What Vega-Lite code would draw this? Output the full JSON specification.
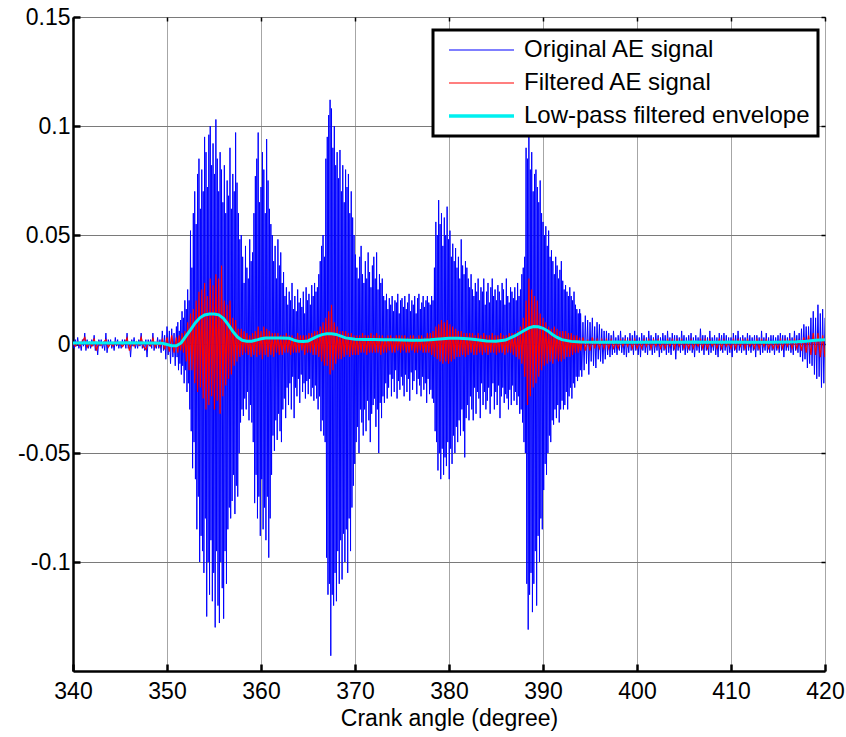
{
"$schema": "https://vega.github.io/schema/vega-lite/v6.json",
"width": 752, "height": 654,
"autosize": {"type": "none"},
"padding": {"left": 73, "top": 17, "right": 21, "bottom": 66},
"background": "white",
"config": {
  "view": {"stroke": "#000000", "strokeWidth": 1},
  "font": "Liberation Sans",
  "axis": {"labelFont": "Liberation Sans", "labelFontSize": 23, "labelColor": "black", "titleFont": "Liberation Sans", "titleFontSize": 23, "titleFontWeight": "normal", "titleColor": "black", "domainColor": "black", "tickColor": "black", "gridWidth": 1}
},
"datasets": {
"blue": [
{"a":340.000,"v":0.001},{"a":340.125,"v":-0.002},{"a":340.250,"v":0.002},{"a":340.375,"v":-0.001},{"a":340.500,"v":0.003},{"a":340.625,"v":-0.002},{"a":340.750,"v":0.001},{"a":340.875,"v":-0.003},
{"a":341.000,"v":0.002},{"a":341.125,"v":-0.001},{"a":341.250,"v":0.005},{"a":341.375,"v":-0.003},{"a":341.500,"v":0.002},{"a":341.625,"v":-0.002},{"a":341.750,"v":0.001},{"a":341.875,"v":-0.002},
{"a":342.000,"v":0.002},{"a":342.125,"v":-0.001},{"a":342.250,"v":0.004},{"a":342.375,"v":-0.003},{"a":342.500,"v":0.001},{"a":342.625,"v":-0.005},{"a":342.750,"v":0.002},{"a":342.875,"v":-0.001},
{"a":343.000,"v":0.002},{"a":343.125,"v":-0.002},{"a":343.250,"v":0.001},{"a":343.375,"v":-0.003},{"a":343.500,"v":0.005},{"a":343.625,"v":-0.004},{"a":343.750,"v":0.002},{"a":343.875,"v":-0.001},
{"a":344.000,"v":0.002},{"a":344.125,"v":-0.002},{"a":344.250,"v":0.001},{"a":344.375,"v":-0.003},{"a":344.500,"v":0.003},{"a":344.625,"v":-0.001},{"a":344.750,"v":0.002},{"a":344.875,"v":-0.002},
{"a":345.000,"v":0.001},{"a":345.125,"v":-0.002},{"a":345.250,"v":0.002},{"a":345.375,"v":-0.001},{"a":345.500,"v":0.002},{"a":345.625,"v":-0.002},{"a":345.750,"v":0.005},{"a":345.875,"v":-0.002},
{"a":346.000,"v":0.001},{"a":346.125,"v":-0.006},{"a":346.250,"v":0.002},{"a":346.375,"v":-0.001},{"a":346.500,"v":0.003},{"a":346.625,"v":-0.002},{"a":346.750,"v":0.001},{"a":346.875,"v":-0.002},
{"a":347.000,"v":0.002},{"a":347.125,"v":-0.001},{"a":347.250,"v":0.005},{"a":347.375,"v":-0.002},{"a":347.500,"v":0.001},{"a":347.625,"v":-0.003},{"a":347.750,"v":0.002},{"a":347.875,"v":-0.006},
{"a":348.000,"v":0.002},{"a":348.125,"v":-0.001},{"a":348.250,"v":0.002},{"a":348.375,"v":-0.002},{"a":348.500,"v":0.005},{"a":348.625,"v":-0.003},{"a":348.750,"v":0.001},{"a":348.875,"v":-0.002},
{"a":349.000,"v":0.003},{"a":349.125,"v":-0.002},{"a":349.250,"v":0.002},{"a":349.375,"v":-0.004},{"a":349.500,"v":0.006},{"a":349.625,"v":-0.003},{"a":349.750,"v":0.004},{"a":349.875,"v":-0.007},
{"a":350.000,"v":0.008},{"a":350.125,"v":-0.005},{"a":350.250,"v":0.006},{"a":350.375,"v":-0.009},{"a":350.500,"v":0.007},{"a":350.625,"v":-0.006},{"a":350.750,"v":0.005},{"a":350.875,"v":-0.010},
{"a":351.000,"v":0.008},{"a":351.075,"v":-0.006},{"a":351.150,"v":0.010},{"a":351.225,"v":-0.012},{"a":351.300,"v":0.006},{"a":351.375,"v":-0.009},{"a":351.450,"v":0.011},{"a":351.525,"v":-0.014},
{"a":351.600,"v":0.015},{"a":351.675,"v":-0.010},{"a":351.750,"v":0.012},{"a":351.825,"v":-0.018},{"a":351.900,"v":0.020},{"a":351.975,"v":-0.012},{"a":352.050,"v":0.016},{"a":352.125,"v":-0.022},
{"a":352.200,"v":0.025},{"a":352.275,"v":-0.018},{"a":352.350,"v":0.020},{"a":352.425,"v":-0.030},{"a":352.500,"v":0.052},{"a":352.575,"v":-0.040},{"a":352.650,"v":0.035},{"a":352.725,"v":-0.057},
{"a":352.800,"v":0.060},{"a":352.875,"v":-0.045},{"a":352.950,"v":0.070},{"a":353.025,"v":-0.062},{"a":353.100,"v":0.055},{"a":353.175,"v":-0.085},{"a":353.250,"v":0.078},{"a":353.325,"v":-0.070},
{"a":353.400,"v":0.085},{"a":353.475,"v":-0.100},{"a":353.550,"v":0.062},{"a":353.625,"v":-0.088},{"a":353.700,"v":0.080},{"a":353.775,"v":-0.095},{"a":353.850,"v":0.070},{"a":353.925,"v":-0.105},
{"a":354.000,"v":0.095},{"a":354.075,"v":-0.080},{"a":354.150,"v":0.088},{"a":354.225,"v":-0.125},{"a":354.300,"v":0.072},{"a":354.375,"v":-0.100},{"a":354.450,"v":0.096},{"a":354.525,"v":-0.115},
{"a":354.600,"v":0.100},{"a":354.675,"v":-0.090},{"a":354.750,"v":0.082},{"a":354.825,"v":-0.118},{"a":354.900,"v":0.092},{"a":354.975,"v":-0.105},{"a":355.050,"v":0.078},{"a":355.125,"v":-0.130},
{"a":355.200,"v":0.103},{"a":355.275,"v":-0.095},{"a":355.350,"v":0.085},{"a":355.425,"v":-0.120},{"a":355.500,"v":0.070},{"a":355.575,"v":-0.128},{"a":355.650,"v":0.088},{"a":355.725,"v":-0.100},
{"a":355.800,"v":0.080},{"a":355.875,"v":-0.112},{"a":355.950,"v":0.065},{"a":356.025,"v":-0.126},{"a":356.100,"v":0.082},{"a":356.175,"v":-0.095},{"a":356.250,"v":0.060},{"a":356.325,"v":-0.110},
{"a":356.400,"v":0.075},{"a":356.475,"v":-0.085},{"a":356.550,"v":0.068},{"a":356.625,"v":-0.075},{"a":356.700,"v":0.090},{"a":356.775,"v":-0.080},{"a":356.850,"v":0.062},{"a":356.925,"v":-0.072},
{"a":357.000,"v":0.078},{"a":357.075,"v":-0.060},{"a":357.150,"v":0.070},{"a":357.225,"v":-0.078},{"a":357.300,"v":0.097},{"a":357.375,"v":-0.065},{"a":357.450,"v":0.074},{"a":357.525,"v":-0.070},
{"a":357.600,"v":0.060},{"a":357.675,"v":-0.050},{"a":357.750,"v":0.048},{"a":357.825,"v":-0.036},{"a":357.900,"v":0.050},{"a":357.975,"v":-0.030},{"a":358.050,"v":0.040},{"a":358.125,"v":-0.033},
{"a":358.200,"v":0.028},{"a":358.275,"v":-0.025},{"a":358.350,"v":0.045},{"a":358.425,"v":-0.030},{"a":358.500,"v":0.035},{"a":358.575,"v":-0.022},{"a":358.650,"v":0.030},{"a":358.725,"v":-0.035},
{"a":358.800,"v":0.048},{"a":358.875,"v":-0.028},{"a":358.950,"v":0.038},{"a":359.025,"v":-0.036},{"a":359.100,"v":0.042},{"a":359.175,"v":-0.045},{"a":359.250,"v":0.060},{"a":359.325,"v":-0.073},
{"a":359.400,"v":0.077},{"a":359.475,"v":-0.060},{"a":359.550,"v":0.085},{"a":359.625,"v":-0.080},{"a":359.700,"v":0.097},{"a":359.775,"v":-0.070},{"a":359.850,"v":0.065},{"a":359.925,"v":-0.088},
{"a":360.000,"v":0.072},{"a":360.075,"v":-0.062},{"a":360.150,"v":0.088},{"a":360.225,"v":-0.085},{"a":360.300,"v":0.080},{"a":360.375,"v":-0.075},{"a":360.450,"v":0.060},{"a":360.525,"v":-0.090},
{"a":360.600,"v":0.094},{"a":360.675,"v":-0.070},{"a":360.750,"v":0.075},{"a":360.825,"v":-0.098},{"a":360.900,"v":0.062},{"a":360.975,"v":-0.080},{"a":361.050,"v":0.055},{"a":361.125,"v":-0.060},
{"a":361.200,"v":0.050},{"a":361.275,"v":-0.042},{"a":361.350,"v":0.038},{"a":361.425,"v":-0.049},{"a":361.500,"v":0.045},{"a":361.575,"v":-0.035},{"a":361.650,"v":0.030},{"a":361.725,"v":-0.044},
{"a":361.800,"v":0.048},{"a":361.875,"v":-0.032},{"a":361.950,"v":0.036},{"a":362.025,"v":-0.040},{"a":362.100,"v":0.042},{"a":362.175,"v":-0.045},{"a":362.250,"v":0.028},{"a":362.325,"v":-0.030},
{"a":362.400,"v":0.033},{"a":362.475,"v":-0.025},{"a":362.550,"v":0.022},{"a":362.625,"v":-0.034},{"a":362.700,"v":0.026},{"a":362.775,"v":-0.020},{"a":362.850,"v":0.018},{"a":362.925,"v":-0.028},
{"a":363.000,"v":0.024},{"a":363.075,"v":-0.018},{"a":363.150,"v":0.020},{"a":363.225,"v":-0.030},{"a":363.300,"v":0.028},{"a":363.375,"v":-0.015},{"a":363.450,"v":0.016},{"a":363.525,"v":-0.034},
{"a":363.600,"v":0.022},{"a":363.675,"v":-0.020},{"a":363.750,"v":0.015},{"a":363.825,"v":-0.024},{"a":363.900,"v":0.025},{"a":363.975,"v":-0.016},{"a":364.050,"v":0.019},{"a":364.125,"v":-0.027},
{"a":364.200,"v":0.021},{"a":364.275,"v":-0.014},{"a":364.350,"v":0.017},{"a":364.425,"v":-0.022},{"a":364.500,"v":0.024},{"a":364.575,"v":-0.018},{"a":364.650,"v":0.014},{"a":364.725,"v":-0.025},
{"a":364.800,"v":0.026},{"a":364.875,"v":-0.017},{"a":364.950,"v":0.020},{"a":365.025,"v":-0.023},{"a":365.100,"v":0.023},{"a":365.175,"v":-0.016},{"a":365.250,"v":0.018},{"a":365.325,"v":-0.024},
{"a":365.400,"v":0.027},{"a":365.475,"v":-0.020},{"a":365.550,"v":0.022},{"a":365.625,"v":-0.026},{"a":365.700,"v":0.028},{"a":365.775,"v":-0.019},{"a":365.850,"v":0.024},{"a":365.925,"v":-0.025},
{"a":366.000,"v":0.026},{"a":366.075,"v":-0.030},{"a":366.150,"v":0.032},{"a":366.225,"v":-0.024},{"a":366.300,"v":0.038},{"a":366.375,"v":-0.040},{"a":366.450,"v":0.045},{"a":366.525,"v":-0.035},
{"a":366.600,"v":0.050},{"a":366.675,"v":-0.042},{"a":366.750,"v":0.040},{"a":366.825,"v":-0.045},{"a":366.900,"v":0.085},{"a":366.975,"v":-0.098},{"a":367.050,"v":0.095},{"a":367.125,"v":-0.115},
{"a":367.200,"v":0.105},{"a":367.275,"v":-0.110},{"a":367.350,"v":0.112},{"a":367.425,"v":-0.143},{"a":367.500,"v":0.108},{"a":367.575,"v":-0.115},{"a":367.650,"v":0.090},{"a":367.725,"v":-0.120},
{"a":367.800,"v":0.100},{"a":367.875,"v":-0.105},{"a":367.950,"v":0.082},{"a":368.025,"v":-0.118},{"a":368.100,"v":0.088},{"a":368.175,"v":-0.095},{"a":368.250,"v":0.076},{"a":368.325,"v":-0.110},
{"a":368.400,"v":0.089},{"a":368.475,"v":-0.090},{"a":368.550,"v":0.070},{"a":368.625,"v":-0.108},{"a":368.700,"v":0.082},{"a":368.775,"v":-0.087},{"a":368.850,"v":0.065},{"a":368.925,"v":-0.100},
{"a":369.000,"v":0.080},{"a":369.075,"v":-0.085},{"a":369.150,"v":0.072},{"a":369.225,"v":-0.105},{"a":369.300,"v":0.078},{"a":369.375,"v":-0.080},{"a":369.450,"v":0.060},{"a":369.525,"v":-0.095},
{"a":369.600,"v":0.070},{"a":369.675,"v":-0.075},{"a":369.750,"v":0.058},{"a":369.825,"v":-0.065},{"a":369.900,"v":0.050},{"a":369.975,"v":-0.055},{"a":370.050,"v":0.041},{"a":370.125,"v":-0.045},
{"a":370.200,"v":0.035},{"a":370.275,"v":-0.038},{"a":370.350,"v":0.030},{"a":370.425,"v":-0.050},{"a":370.500,"v":0.040},{"a":370.575,"v":-0.030},{"a":370.650,"v":0.045},{"a":370.725,"v":-0.036},
{"a":370.800,"v":0.032},{"a":370.875,"v":-0.042},{"a":370.950,"v":0.028},{"a":371.025,"v":-0.030},{"a":371.100,"v":0.038},{"a":371.175,"v":-0.040},{"a":371.250,"v":0.030},{"a":371.325,"v":-0.026},
{"a":371.400,"v":0.042},{"a":371.475,"v":-0.035},{"a":371.550,"v":0.033},{"a":371.625,"v":-0.045},{"a":371.700,"v":0.026},{"a":371.775,"v":-0.032},{"a":371.850,"v":0.036},{"a":371.925,"v":-0.028},
{"a":372.000,"v":0.040},{"a":372.075,"v":-0.025},{"a":372.150,"v":0.030},{"a":372.225,"v":-0.038},{"a":372.300,"v":0.042},{"a":372.375,"v":-0.030},{"a":372.450,"v":0.025},{"a":372.525,"v":-0.050},
{"a":372.600,"v":0.032},{"a":372.675,"v":-0.027},{"a":372.750,"v":0.028},{"a":372.825,"v":-0.034},{"a":372.900,"v":0.030},{"a":372.975,"v":-0.024},{"a":373.050,"v":0.022},{"a":373.125,"v":-0.027},
{"a":373.200,"v":0.020},{"a":373.275,"v":-0.018},{"a":373.350,"v":0.023},{"a":373.425,"v":-0.025},{"a":373.500,"v":0.016},{"a":373.575,"v":-0.020},{"a":373.650,"v":0.021},{"a":373.725,"v":-0.014},
{"a":373.800,"v":0.018},{"a":373.875,"v":-0.024},{"a":373.950,"v":0.022},{"a":374.025,"v":-0.016},{"a":374.100,"v":0.015},{"a":374.175,"v":-0.022},{"a":374.250,"v":0.020},{"a":374.325,"v":-0.012},
{"a":374.400,"v":0.019},{"a":374.475,"v":-0.025},{"a":374.550,"v":0.023},{"a":374.625,"v":-0.017},{"a":374.700,"v":0.014},{"a":374.775,"v":-0.021},{"a":374.850,"v":0.020},{"a":374.925,"v":-0.015},
{"a":375.000,"v":0.021},{"a":375.075,"v":-0.019},{"a":375.150,"v":0.017},{"a":375.225,"v":-0.024},{"a":375.300,"v":0.022},{"a":375.375,"v":-0.014},{"a":375.450,"v":0.016},{"a":375.525,"v":-0.022},
{"a":375.600,"v":0.019},{"a":375.675,"v":-0.016},{"a":375.750,"v":0.023},{"a":375.825,"v":-0.026},{"a":375.900,"v":0.015},{"a":375.975,"v":-0.013},{"a":376.050,"v":0.020},{"a":376.125,"v":-0.021},
{"a":376.200,"v":0.018},{"a":376.275,"v":-0.017},{"a":376.350,"v":0.022},{"a":376.425,"v":-0.012},{"a":376.500,"v":0.014},{"a":376.575,"v":-0.023},{"a":376.650,"v":0.021},{"a":376.725,"v":-0.016},
{"a":376.800,"v":0.023},{"a":376.875,"v":-0.019},{"a":376.950,"v":0.016},{"a":377.025,"v":-0.024},{"a":377.100,"v":0.019},{"a":377.175,"v":-0.015},{"a":377.250,"v":0.022},{"a":377.325,"v":-0.021},
{"a":377.400,"v":0.017},{"a":377.475,"v":-0.018},{"a":377.550,"v":0.020},{"a":377.625,"v":-0.027},{"a":377.700,"v":0.022},{"a":377.775,"v":-0.016},{"a":377.850,"v":0.019},{"a":377.925,"v":-0.023},
{"a":378.000,"v":0.018},{"a":378.075,"v":-0.021},{"a":378.150,"v":0.022},{"a":378.225,"v":-0.025},{"a":378.300,"v":0.020},{"a":378.375,"v":-0.027},{"a":378.450,"v":0.035},{"a":378.525,"v":-0.040},
{"a":378.600,"v":0.056},{"a":378.675,"v":-0.045},{"a":378.750,"v":0.050},{"a":378.825,"v":-0.058},{"a":378.900,"v":0.066},{"a":378.975,"v":-0.050},{"a":379.050,"v":0.055},{"a":379.125,"v":-0.062},
{"a":379.200,"v":0.060},{"a":379.275,"v":-0.048},{"a":379.350,"v":0.045},{"a":379.425,"v":-0.060},{"a":379.500,"v":0.058},{"a":379.575,"v":-0.052},{"a":379.650,"v":0.050},{"a":379.725,"v":-0.056},
{"a":379.800,"v":0.063},{"a":379.875,"v":-0.045},{"a":379.950,"v":0.048},{"a":380.025,"v":-0.062},{"a":380.100,"v":0.052},{"a":380.175,"v":-0.048},{"a":380.250,"v":0.040},{"a":380.325,"v":-0.055},
{"a":380.400,"v":0.046},{"a":380.475,"v":-0.042},{"a":380.550,"v":0.038},{"a":380.625,"v":-0.050},{"a":380.700,"v":0.044},{"a":380.775,"v":-0.038},{"a":380.850,"v":0.035},{"a":380.925,"v":-0.045},
{"a":381.000,"v":0.040},{"a":381.075,"v":-0.035},{"a":381.150,"v":0.030},{"a":381.225,"v":-0.042},{"a":381.300,"v":0.048},{"a":381.375,"v":-0.030},{"a":381.450,"v":0.036},{"a":381.525,"v":-0.040},
{"a":381.600,"v":0.032},{"a":381.675,"v":-0.052},{"a":381.750,"v":0.038},{"a":381.825,"v":-0.034},{"a":381.900,"v":0.035},{"a":381.975,"v":-0.028},{"a":382.050,"v":0.030},{"a":382.125,"v":-0.035},
{"a":382.200,"v":0.026},{"a":382.275,"v":-0.024},{"a":382.350,"v":0.032},{"a":382.425,"v":-0.030},{"a":382.500,"v":0.025},{"a":382.575,"v":-0.035},{"a":382.650,"v":0.022},{"a":382.725,"v":-0.020},
{"a":382.800,"v":0.028},{"a":382.875,"v":-0.032},{"a":382.950,"v":0.024},{"a":383.025,"v":-0.022},{"a":383.100,"v":0.030},{"a":383.175,"v":-0.025},{"a":383.250,"v":0.020},{"a":383.325,"v":-0.034},
{"a":383.400,"v":0.026},{"a":383.475,"v":-0.018},{"a":383.550,"v":0.024},{"a":383.625,"v":-0.028},{"a":383.700,"v":0.030},{"a":383.775,"v":-0.022},{"a":383.850,"v":0.018},{"a":383.925,"v":-0.030},
{"a":384.000,"v":0.024},{"a":384.075,"v":-0.026},{"a":384.150,"v":0.028},{"a":384.225,"v":-0.020},{"a":384.300,"v":0.019},{"a":384.375,"v":-0.032},{"a":384.450,"v":0.026},{"a":384.525,"v":-0.024},
{"a":384.600,"v":0.030},{"a":384.675,"v":-0.018},{"a":384.750,"v":0.022},{"a":384.825,"v":-0.030},{"a":384.900,"v":0.025},{"a":384.975,"v":-0.022},{"a":385.050,"v":0.020},{"a":385.125,"v":-0.028},
{"a":385.200,"v":0.027},{"a":385.275,"v":-0.019},{"a":385.350,"v":0.024},{"a":385.425,"v":-0.034},{"a":385.500,"v":0.020},{"a":385.575,"v":-0.024},{"a":385.650,"v":0.028},{"a":385.725,"v":-0.020},
{"a":385.800,"v":0.025},{"a":385.875,"v":-0.027},{"a":385.950,"v":0.018},{"a":386.025,"v":-0.023},{"a":386.100,"v":0.030},{"a":386.175,"v":-0.025},{"a":386.250,"v":0.022},{"a":386.325,"v":-0.030},
{"a":386.400,"v":0.019},{"a":386.475,"v":-0.021},{"a":386.550,"v":0.026},{"a":386.625,"v":-0.028},{"a":386.700,"v":0.024},{"a":386.775,"v":-0.019},{"a":386.850,"v":0.021},{"a":386.925,"v":-0.026},
{"a":387.000,"v":0.026},{"a":387.075,"v":-0.022},{"a":387.150,"v":0.020},{"a":387.225,"v":-0.028},{"a":387.300,"v":0.028},{"a":387.375,"v":-0.024},{"a":387.450,"v":0.022},{"a":387.525,"v":-0.032},
{"a":387.600,"v":0.025},{"a":387.675,"v":-0.030},{"a":387.750,"v":0.032},{"a":387.825,"v":-0.036},{"a":387.900,"v":0.035},{"a":387.975,"v":-0.045},{"a":388.050,"v":0.040},{"a":388.125,"v":-0.050},
{"a":388.200,"v":0.090},{"a":388.275,"v":-0.110},{"a":388.350,"v":0.085},{"a":388.425,"v":-0.131},{"a":388.500,"v":0.096},{"a":388.575,"v":-0.115},{"a":388.650,"v":0.080},{"a":388.725,"v":-0.105},
{"a":388.800,"v":0.088},{"a":388.875,"v":-0.123},{"a":388.950,"v":0.070},{"a":389.025,"v":-0.110},{"a":389.100,"v":0.078},{"a":389.175,"v":-0.095},{"a":389.250,"v":0.080},{"a":389.325,"v":-0.120},
{"a":389.400,"v":0.072},{"a":389.475,"v":-0.088},{"a":389.550,"v":0.065},{"a":389.625,"v":-0.100},{"a":389.700,"v":0.075},{"a":389.775,"v":-0.080},{"a":389.850,"v":0.060},{"a":389.925,"v":-0.085},
{"a":390.000,"v":0.056},{"a":390.075,"v":-0.067},{"a":390.150,"v":0.050},{"a":390.225,"v":-0.055},{"a":390.300,"v":0.054},{"a":390.375,"v":-0.060},{"a":390.450,"v":0.045},{"a":390.525,"v":-0.050},
{"a":390.600,"v":0.052},{"a":390.675,"v":-0.042},{"a":390.750,"v":0.040},{"a":390.825,"v":-0.045},{"a":390.900,"v":0.043},{"a":390.975,"v":-0.035},{"a":391.050,"v":0.038},{"a":391.125,"v":-0.037},
{"a":391.200,"v":0.032},{"a":391.275,"v":-0.030},{"a":391.350,"v":0.040},{"a":391.425,"v":-0.034},{"a":391.500,"v":0.036},{"a":391.575,"v":-0.028},{"a":391.650,"v":0.030},{"a":391.725,"v":-0.036},
{"a":391.800,"v":0.034},{"a":391.875,"v":-0.030},{"a":391.950,"v":0.038},{"a":392.025,"v":-0.026},{"a":392.100,"v":0.029},{"a":392.175,"v":-0.030},{"a":392.250,"v":0.025},{"a":392.325,"v":-0.028},
{"a":392.400,"v":0.027},{"a":392.475,"v":-0.022},{"a":392.550,"v":0.024},{"a":392.625,"v":-0.030},{"a":392.700,"v":0.022},{"a":392.775,"v":-0.024},{"a":392.850,"v":0.026},{"a":392.925,"v":-0.020},
{"a":393.000,"v":0.022},{"a":393.075,"v":-0.025},{"a":393.150,"v":0.020},{"a":393.225,"v":-0.018},{"a":393.300,"v":0.024},{"a":393.375,"v":-0.020},{"a":393.450,"v":0.018},{"a":393.525,"v":-0.015},
{"a":393.600,"v":0.016},{"a":393.675,"v":-0.017},{"a":393.750,"v":0.014},{"a":393.825,"v":-0.015},{"a":393.900,"v":0.016},{"a":393.975,"v":-0.012},
{"a":394.000,"v":0.014},{"a":394.125,"v":-0.015},{"a":394.250,"v":0.010},{"a":394.375,"v":-0.012},{"a":394.500,"v":0.013},{"a":394.625,"v":-0.009},{"a":394.750,"v":0.011},{"a":394.875,"v":-0.014},
{"a":395.000,"v":0.010},{"a":395.125,"v":-0.008},{"a":395.250,"v":0.012},{"a":395.375,"v":-0.010},{"a":395.500,"v":0.008},{"a":395.625,"v":-0.011},{"a":395.750,"v":0.010},{"a":395.875,"v":-0.007},
{"a":396.000,"v":0.009},{"a":396.125,"v":-0.008},{"a":396.250,"v":0.007},{"a":396.375,"v":-0.009},{"a":396.500,"v":0.006},{"a":396.625,"v":-0.007},{"a":396.750,"v":0.006},{"a":396.875,"v":-0.005},
{"a":397.000,"v":0.005},{"a":397.125,"v":-0.006},{"a":397.250,"v":0.004},{"a":397.375,"v":-0.005},{"a":397.500,"v":0.006},{"a":397.625,"v":-0.004},{"a":397.750,"v":0.003},{"a":397.875,"v":-0.005},
{"a":398.000,"v":0.004},{"a":398.125,"v":-0.003},{"a":398.250,"v":0.006},{"a":398.375,"v":-0.004},{"a":398.500,"v":0.003},{"a":398.625,"v":-0.005},{"a":398.750,"v":0.004},{"a":398.875,"v":-0.006},
{"a":399.000,"v":0.003},{"a":399.125,"v":-0.004},{"a":399.250,"v":0.005},{"a":399.375,"v":-0.003},{"a":399.500,"v":0.004},{"a":399.625,"v":-0.005},{"a":399.750,"v":0.006},{"a":399.875,"v":-0.003},
{"a":400.000,"v":0.004},{"a":400.125,"v":-0.005},{"a":400.250,"v":0.003},{"a":400.375,"v":-0.006},{"a":400.500,"v":0.005},{"a":400.625,"v":-0.003},{"a":400.750,"v":0.004},{"a":400.875,"v":-0.004},
{"a":401.000,"v":0.003},{"a":401.125,"v":-0.005},{"a":401.250,"v":0.006},{"a":401.375,"v":-0.003},{"a":401.500,"v":0.004},{"a":401.625,"v":-0.005},{"a":401.750,"v":0.003},{"a":401.875,"v":-0.004},
{"a":402.000,"v":0.005},{"a":402.125,"v":-0.003},{"a":402.250,"v":0.004},{"a":402.375,"v":-0.006},{"a":402.500,"v":0.003},{"a":402.625,"v":-0.004},{"a":402.750,"v":0.005},{"a":402.875,"v":-0.003},
{"a":403.000,"v":0.004},{"a":403.125,"v":-0.005},{"a":403.250,"v":0.006},{"a":403.375,"v":-0.004},{"a":403.500,"v":0.003},{"a":403.625,"v":-0.005},{"a":403.750,"v":0.005},{"a":403.875,"v":-0.003},
{"a":404.000,"v":0.004},{"a":404.125,"v":-0.007},{"a":404.250,"v":0.004},{"a":404.375,"v":-0.003},{"a":404.500,"v":0.003},{"a":404.625,"v":-0.004},{"a":404.750,"v":0.006},{"a":404.875,"v":-0.003},
{"a":405.000,"v":0.004},{"a":405.125,"v":-0.005},{"a":405.250,"v":0.003},{"a":405.375,"v":-0.004},{"a":405.500,"v":0.004},{"a":405.625,"v":-0.003},{"a":405.750,"v":0.005},{"a":405.875,"v":-0.004},
{"a":406.000,"v":0.003},{"a":406.125,"v":-0.006},{"a":406.250,"v":0.004},{"a":406.375,"v":-0.003},{"a":406.500,"v":0.003},{"a":406.625,"v":-0.004},{"a":406.750,"v":0.007},{"a":406.875,"v":-0.003},
{"a":407.000,"v":0.004},{"a":407.125,"v":-0.005},{"a":407.250,"v":0.004},{"a":407.375,"v":-0.003},{"a":407.500,"v":0.003},{"a":407.625,"v":-0.005},{"a":407.750,"v":0.006},{"a":407.875,"v":-0.004},
{"a":408.000,"v":0.003},{"a":408.125,"v":-0.003},{"a":408.250,"v":0.004},{"a":408.375,"v":-0.005},{"a":408.500,"v":0.003},{"a":408.625,"v":-0.006},{"a":408.750,"v":0.005},{"a":408.875,"v":-0.003},
{"a":409.000,"v":0.004},{"a":409.125,"v":-0.004},{"a":409.250,"v":0.005},{"a":409.375,"v":-0.003},{"a":409.500,"v":0.004},{"a":409.625,"v":-0.005},{"a":409.750,"v":0.003},{"a":409.875,"v":-0.004},
{"a":410.000,"v":0.003},{"a":410.125,"v":-0.006},{"a":410.250,"v":0.005},{"a":410.375,"v":-0.003},{"a":410.500,"v":0.004},{"a":410.625,"v":-0.004},{"a":410.750,"v":0.006},{"a":410.875,"v":-0.003},
{"a":411.000,"v":0.003},{"a":411.125,"v":-0.004},{"a":411.250,"v":0.004},{"a":411.375,"v":-0.003},{"a":411.500,"v":0.003},{"a":411.625,"v":-0.005},{"a":411.750,"v":0.005},{"a":411.875,"v":-0.003},
{"a":412.000,"v":0.004},{"a":412.125,"v":-0.004},{"a":412.250,"v":0.003},{"a":412.375,"v":-0.003},{"a":412.500,"v":0.004},{"a":412.625,"v":-0.006},{"a":412.750,"v":0.004},{"a":412.875,"v":-0.003},
{"a":413.000,"v":0.003},{"a":413.125,"v":-0.005},{"a":413.250,"v":0.006},{"a":413.375,"v":-0.004},{"a":413.500,"v":0.003},{"a":413.625,"v":-0.003},{"a":413.750,"v":0.005},{"a":413.875,"v":-0.004},
{"a":414.000,"v":0.003},{"a":414.125,"v":-0.004},{"a":414.250,"v":0.004},{"a":414.375,"v":-0.003},{"a":414.500,"v":0.004},{"a":414.625,"v":-0.005},{"a":414.750,"v":0.003},{"a":414.875,"v":-0.003},
{"a":415.000,"v":0.004},{"a":415.125,"v":-0.004},{"a":415.250,"v":0.005},{"a":415.375,"v":-0.003},{"a":415.500,"v":0.004},{"a":415.625,"v":-0.006},{"a":415.750,"v":0.004},{"a":415.875,"v":-0.003},
{"a":416.000,"v":0.003},{"a":416.125,"v":-0.003},{"a":416.250,"v":0.005},{"a":416.375,"v":-0.004},{"a":416.500,"v":0.003},{"a":416.625,"v":-0.005},{"a":416.750,"v":0.006},{"a":416.875,"v":-0.003},
{"a":417.000,"v":0.004},{"a":417.125,"v":-0.004},{"a":417.250,"v":0.005},{"a":417.375,"v":-0.006},{"a":417.500,"v":0.007},{"a":417.625,"v":-0.008},{"a":417.750,"v":0.009},{"a":417.875,"v":-0.007},
{"a":418.000,"v":0.008},{"a":418.125,"v":-0.011},{"a":418.250,"v":0.008},{"a":418.375,"v":-0.009},{"a":418.500,"v":0.012},{"a":418.625,"v":-0.010},{"a":418.750,"v":0.015},{"a":418.875,"v":-0.014},
{"a":419.000,"v":0.012},{"a":419.125,"v":-0.016},{"a":419.250,"v":0.018},{"a":419.375,"v":-0.015},{"a":419.500,"v":0.014},{"a":419.625,"v":-0.020},{"a":419.750,"v":0.016},{"a":419.875,"v":-0.018},
{"a":420.000,"v":0.012}
],
"red": [
{"a":340.00,"f":0.0005},{"a":340.25,"f":-0.001},{"a":340.50,"f":0.001},{"a":340.75,"f":-0.0008},
{"a":341.00,"f":0.0012},{"a":341.25,"f":0.003},{"a":341.50,"f":-0.0015},{"a":341.75,"f":0.0006},
{"a":342.00,"f":-0.001},{"a":342.25,"f":0.0025},{"a":342.50,"f":-0.003},{"a":342.75,"f":0.001},
{"a":343.00,"f":-0.0005},{"a":343.25,"f":0.0008},{"a":343.50,"f":0.002},{"a":343.75,"f":-0.0015},
{"a":344.00,"f":0.0005},{"a":344.25,"f":-0.001},{"a":344.50,"f":0.0012},{"a":344.75,"f":-0.0004},
{"a":345.00,"f":0.0007},{"a":345.25,"f":-0.0012},{"a":345.50,"f":0.0004},{"a":345.75,"f":0.0028},
{"a":346.00,"f":-0.003},{"a":346.25,"f":0.001},{"a":346.50,"f":-0.0009},{"a":346.75,"f":0.0011},
{"a":347.00,"f":-0.0005},{"a":347.25,"f":0.003},{"a":347.50,"f":-0.0012},{"a":347.75,"f":-0.0025},
{"a":348.00,"f":0.0009},{"a":348.25,"f":-0.0008},{"a":348.50,"f":0.0026},{"a":348.75,"f":-0.0014},
{"a":349.00,"f":0.001},{"a":349.25,"f":-0.0012},{"a":349.50,"f":0.002},{"a":349.75,"f":-0.0025},
{"a":350.00,"f":0.003},{"a":350.25,"f":-0.0035},{"a":350.50,"f":0.004},{"a":350.75,"f":-0.004},
{"a":351.00,"f":0.003},{"a":351.15,"f":-0.004},{"a":351.30,"f":0.004},{"a":351.45,"f":-0.003},
{"a":351.60,"f":0.005},{"a":351.75,"f":-0.004},{"a":351.90,"f":0.006},{"a":352.05,"f":-0.008},
{"a":352.20,"f":0.01},{"a":352.35,"f":-0.012},{"a":352.50,"f":0.014},{"a":352.65,"f":-0.012},
{"a":352.80,"f":0.016},{"a":352.95,"f":-0.018},{"a":353.10,"f":0.02},{"a":353.25,"f":-0.022},
{"a":353.40,"f":0.024},{"a":353.55,"f":-0.02},{"a":353.70,"f":0.025},{"a":353.85,"f":-0.025},
{"a":354.00,"f":0.028},{"a":354.15,"f":-0.03},{"a":354.30,"f":0.022},{"a":354.45,"f":-0.028},
{"a":354.60,"f":0.03},{"a":354.75,"f":-0.024},{"a":354.90,"f":0.027},{"a":355.05,"f":-0.03},
{"a":355.20,"f":0.032},{"a":355.35,"f":-0.026},{"a":355.50,"f":0.03},{"a":355.65,"f":-0.032},
{"a":355.80,"f":0.036},{"a":355.95,"f":-0.024},{"a":356.10,"f":0.02},{"a":356.25,"f":-0.019},
{"a":356.40,"f":0.018},{"a":356.55,"f":-0.016},{"a":356.70,"f":0.02},{"a":356.85,"f":-0.014},
{"a":357.00,"f":0.012},{"a":357.15,"f":-0.01},{"a":357.30,"f":0.011},{"a":357.45,"f":-0.008},
{"a":357.60,"f":0.007},{"a":357.75,"f":-0.006},{"a":357.90,"f":0.007},{"a":358.05,"f":-0.005},
{"a":358.20,"f":0.006},{"a":358.35,"f":-0.004},{"a":358.50,"f":0.005},{"a":358.65,"f":-0.005},
{"a":358.80,"f":0.004},{"a":358.95,"f":-0.006},{"a":359.10,"f":0.005},{"a":359.25,"f":-0.005},
{"a":359.40,"f":0.006},{"a":359.55,"f":-0.006},{"a":359.70,"f":0.008},{"a":359.85,"f":-0.005},
{"a":360.00,"f":0.006},{"a":360.15,"f":-0.007},{"a":360.30,"f":0.008},{"a":360.45,"f":-0.005},
{"a":360.60,"f":0.007},{"a":360.75,"f":-0.006},{"a":360.90,"f":0.006},{"a":361.05,"f":-0.005},
{"a":361.20,"f":0.005},{"a":361.35,"f":-0.006},{"a":361.50,"f":0.005},{"a":361.65,"f":-0.004},
{"a":361.80,"f":0.005},{"a":361.95,"f":-0.005},{"a":362.10,"f":0.004},{"a":362.25,"f":-0.005},
{"a":362.40,"f":0.004},{"a":362.55,"f":-0.004},{"a":362.70,"f":0.005},{"a":362.85,"f":-0.004},
{"a":363.00,"f":0.004},{"a":363.15,"f":-0.005},{"a":363.30,"f":0.004},{"a":363.45,"f":-0.004},
{"a":363.60,"f":0.003},{"a":363.75,"f":-0.004},{"a":363.90,"f":0.005},{"a":364.05,"f":-0.004},
{"a":364.20,"f":0.004},{"a":364.35,"f":-0.003},{"a":364.50,"f":0.004},{"a":364.65,"f":-0.005},
{"a":364.80,"f":0.004},{"a":364.95,"f":-0.004},{"a":365.10,"f":0.005},{"a":365.25,"f":-0.004},
{"a":365.40,"f":0.005},{"a":365.55,"f":-0.005},{"a":365.70,"f":0.006},{"a":365.85,"f":-0.005},
{"a":366.00,"f":0.006},{"a":366.15,"f":-0.006},{"a":366.30,"f":0.008},{"a":366.45,"f":-0.008},
{"a":366.60,"f":0.01},{"a":366.75,"f":-0.01},{"a":366.90,"f":0.012},{"a":367.05,"f":-0.01},
{"a":367.20,"f":0.015},{"a":367.35,"f":-0.014},{"a":367.50,"f":0.018},{"a":367.65,"f":-0.012},
{"a":367.80,"f":0.01},{"a":367.95,"f":-0.009},{"a":368.10,"f":0.008},{"a":368.25,"f":-0.007},
{"a":368.40,"f":0.006},{"a":368.55,"f":-0.007},{"a":368.70,"f":0.006},{"a":368.85,"f":-0.006},
{"a":369.00,"f":0.006},{"a":369.15,"f":-0.005},{"a":369.30,"f":0.005},{"a":369.45,"f":-0.006},
{"a":369.60,"f":0.005},{"a":369.75,"f":-0.005},{"a":369.90,"f":0.004},{"a":370.05,"f":-0.005},
{"a":370.20,"f":0.004},{"a":370.35,"f":-0.005},{"a":370.50,"f":0.004},{"a":370.65,"f":-0.004},
{"a":370.80,"f":0.005},{"a":370.95,"f":-0.004},{"a":371.10,"f":0.004},{"a":371.25,"f":-0.005},
{"a":371.40,"f":0.004},{"a":371.55,"f":-0.004},{"a":371.70,"f":0.005},{"a":371.85,"f":-0.004},
{"a":372.00,"f":0.004},{"a":372.15,"f":-0.004},{"a":372.30,"f":0.005},{"a":372.45,"f":-0.004},
{"a":372.60,"f":0.004},{"a":372.75,"f":-0.005},{"a":372.90,"f":0.004},{"a":373.05,"f":-0.004},
{"a":373.20,"f":0.003},{"a":373.35,"f":-0.004},{"a":373.50,"f":0.004},{"a":373.65,"f":-0.003},
{"a":373.80,"f":0.004},{"a":373.95,"f":-0.004},{"a":374.10,"f":0.003},{"a":374.25,"f":-0.004},
{"a":374.40,"f":0.004},{"a":374.55,"f":-0.003},{"a":374.70,"f":0.004},{"a":374.85,"f":-0.004},
{"a":375.00,"f":0.004},{"a":375.15,"f":-0.003},{"a":375.30,"f":0.004},{"a":375.45,"f":-0.004},
{"a":375.60,"f":0.003},{"a":375.75,"f":-0.004},{"a":375.90,"f":0.004},{"a":376.05,"f":-0.003},
{"a":376.20,"f":0.004},{"a":376.35,"f":-0.004},{"a":376.50,"f":0.003},{"a":376.65,"f":-0.004},
{"a":376.80,"f":0.004},{"a":376.95,"f":-0.003},{"a":377.10,"f":0.004},{"a":377.25,"f":-0.004},
{"a":377.40,"f":0.003},{"a":377.55,"f":-0.004},{"a":377.70,"f":0.005},{"a":377.85,"f":-0.004},
{"a":378.00,"f":0.005},{"a":378.15,"f":-0.005},{"a":378.30,"f":0.006},{"a":378.45,"f":-0.006},
{"a":378.60,"f":0.008},{"a":378.75,"f":-0.007},{"a":378.90,"f":0.009},{"a":379.05,"f":-0.008},
{"a":379.20,"f":0.011},{"a":379.35,"f":-0.009},{"a":379.50,"f":0.01},{"a":379.65,"f":-0.008},
{"a":379.80,"f":0.011},{"a":379.95,"f":-0.009},{"a":380.10,"f":0.009},{"a":380.25,"f":-0.008},
{"a":380.40,"f":0.008},{"a":380.55,"f":-0.007},{"a":380.70,"f":0.007},{"a":380.85,"f":-0.006},
{"a":381.00,"f":0.006},{"a":381.15,"f":-0.006},{"a":381.30,"f":0.006},{"a":381.45,"f":-0.005},
{"a":381.60,"f":0.005},{"a":381.75,"f":-0.006},{"a":381.90,"f":0.005},{"a":382.05,"f":-0.005},
{"a":382.20,"f":0.005},{"a":382.35,"f":-0.004},{"a":382.50,"f":0.005},{"a":382.65,"f":-0.005},
{"a":382.80,"f":0.004},{"a":382.95,"f":-0.005},{"a":383.10,"f":0.005},{"a":383.25,"f":-0.004},
{"a":383.40,"f":0.004},{"a":383.55,"f":-0.005},{"a":383.70,"f":0.005},{"a":383.85,"f":-0.004},
{"a":384.00,"f":0.004},{"a":384.15,"f":-0.005},{"a":384.30,"f":0.004},{"a":384.45,"f":-0.004},
{"a":384.60,"f":0.005},{"a":384.75,"f":-0.004},{"a":384.90,"f":0.004},{"a":385.05,"f":-0.005},
{"a":385.20,"f":0.004},{"a":385.35,"f":-0.004},{"a":385.50,"f":0.005},{"a":385.65,"f":-0.004},
{"a":385.80,"f":0.004},{"a":385.95,"f":-0.005},{"a":386.10,"f":0.004},{"a":386.25,"f":-0.004},
{"a":386.40,"f":0.005},{"a":386.55,"f":-0.004},{"a":386.70,"f":0.005},{"a":386.85,"f":-0.005},
{"a":387.00,"f":0.005},{"a":387.15,"f":-0.006},{"a":387.30,"f":0.006},{"a":387.45,"f":-0.007},
{"a":387.60,"f":0.008},{"a":387.75,"f":-0.009},{"a":387.90,"f":0.012},{"a":388.05,"f":-0.015},
{"a":388.20,"f":0.02},{"a":388.35,"f":-0.028},{"a":388.50,"f":0.03},{"a":388.65,"f":-0.024},
{"a":388.80,"f":0.025},{"a":388.95,"f":-0.02},{"a":389.10,"f":0.022},{"a":389.25,"f":-0.018},
{"a":389.40,"f":0.02},{"a":389.55,"f":-0.015},{"a":389.70,"f":0.014},{"a":389.85,"f":-0.012},
{"a":390.00,"f":0.012},{"a":390.15,"f":-0.01},{"a":390.30,"f":0.01},{"a":390.45,"f":-0.009},
{"a":390.60,"f":0.008},{"a":390.75,"f":-0.008},{"a":390.90,"f":0.007},{"a":391.05,"f":-0.009},
{"a":391.20,"f":0.008},{"a":391.35,"f":-0.007},{"a":391.50,"f":0.007},{"a":391.65,"f":-0.008},
{"a":391.80,"f":0.006},{"a":391.95,"f":-0.008},{"a":392.10,"f":0.006},{"a":392.25,"f":-0.007},
{"a":392.40,"f":0.006},{"a":392.55,"f":-0.006},{"a":392.70,"f":0.005},{"a":392.85,"f":-0.006},
{"a":393.00,"f":0.005},{"a":393.15,"f":-0.005},{"a":393.30,"f":0.004},{"a":393.45,"f":-0.004},
{"a":393.60,"f":0.004},{"a":393.75,"f":-0.004},{"a":393.90,"f":0.003},
{"a":394.00,"f":-0.003},{"a":394.25,"f":0.003},{"a":394.50,"f":-0.003},{"a":394.75,"f":0.002},
{"a":395.00,"f":-0.003},{"a":395.25,"f":0.003},{"a":395.50,"f":-0.002},{"a":395.75,"f":0.002},
{"a":396.00,"f":-0.002},{"a":396.25,"f":0.002},{"a":396.50,"f":-0.002},{"a":396.75,"f":0.002},
{"a":397.00,"f":-0.002},{"a":397.25,"f":0.002},{"a":397.50,"f":-0.002},{"a":397.75,"f":0.001},
{"a":398.00,"f":-0.002},{"a":398.25,"f":0.002},{"a":398.50,"f":-0.001},{"a":398.75,"f":0.002},
{"a":399.00,"f":-0.001},{"a":399.25,"f":0.002},{"a":399.50,"f":-0.002},{"a":399.75,"f":0.002},
{"a":400.00,"f":-0.002},{"a":400.25,"f":0.001},{"a":400.50,"f":-0.002},{"a":400.75,"f":0.002},
{"a":401.00,"f":-0.001},{"a":401.25,"f":0.002},{"a":401.50,"f":-0.002},{"a":401.75,"f":0.002},
{"a":402.00,"f":-0.001},{"a":402.25,"f":0.002},{"a":402.50,"f":-0.002},{"a":402.75,"f":0.001},
{"a":403.00,"f":-0.002},{"a":403.25,"f":0.002},{"a":403.50,"f":-0.001},{"a":403.75,"f":0.002},
{"a":404.00,"f":-0.002},{"a":404.25,"f":0.002},{"a":404.50,"f":-0.001},{"a":404.75,"f":0.002},
{"a":405.00,"f":-0.002},{"a":405.25,"f":0.001},{"a":405.50,"f":-0.002},{"a":405.75,"f":0.002},
{"a":406.00,"f":-0.002},{"a":406.25,"f":0.001},{"a":406.50,"f":-0.001},{"a":406.75,"f":0.002},
{"a":407.00,"f":-0.002},{"a":407.25,"f":0.002},{"a":407.50,"f":-0.002},{"a":407.75,"f":0.002},
{"a":408.00,"f":-0.001},{"a":408.25,"f":0.001},{"a":408.50,"f":-0.002},{"a":408.75,"f":0.002},
{"a":409.00,"f":-0.002},{"a":409.25,"f":0.002},{"a":409.50,"f":-0.001},{"a":409.75,"f":0.001},
{"a":410.00,"f":-0.002},{"a":410.25,"f":0.002},{"a":410.50,"f":-0.002},{"a":410.75,"f":0.002},
{"a":411.00,"f":-0.001},{"a":411.25,"f":0.002},{"a":411.50,"f":-0.002},{"a":411.75,"f":0.002},
{"a":412.00,"f":-0.001},{"a":412.25,"f":0.001},{"a":412.50,"f":-0.002},{"a":412.75,"f":0.002},
{"a":413.00,"f":-0.002},{"a":413.25,"f":0.002},{"a":413.50,"f":-0.001},{"a":413.75,"f":0.002},
{"a":414.00,"f":-0.002},{"a":414.25,"f":0.001},{"a":414.50,"f":-0.002},{"a":414.75,"f":0.001},
{"a":415.00,"f":-0.002},{"a":415.25,"f":0.002},{"a":415.50,"f":-0.002},{"a":415.75,"f":0.002},
{"a":416.00,"f":-0.001},{"a":416.25,"f":0.002},{"a":416.50,"f":-0.002},{"a":416.75,"f":0.002},
{"a":417.00,"f":-0.002},{"a":417.25,"f":0.002},{"a":417.50,"f":-0.003},{"a":417.75,"f":0.003},
{"a":418.00,"f":-0.004},{"a":418.25,"f":0.004},{"a":418.50,"f":-0.005},{"a":418.75,"f":0.005},
{"a":419.00,"f":-0.005},{"a":419.25,"f":0.005},{"a":419.50,"f":-0.006},{"a":419.75,"f":0.004},
{"a":420.00,"f":-0.006}
],
"env": [
{"a":340,"e":0.0005},{"a":342,"e":0.0006},{"a":344,"e":0.0005},{"a":346,"e":0.0006},{"a":348,"e":0.0005},{"a":349.5,"e":0.0003},
{"a":350.5,"e":-0.0008},{"a":351,"e":-0.0008},{"a":351.5,"e":0.0005},{"a":352,"e":0.0035},{"a":352.5,"e":0.0065},{"a":353,"e":0.0097},
{"a":353.5,"e":0.012},{"a":354,"e":0.0133},{"a":354.5,"e":0.0138},{"a":355,"e":0.0138},{"a":355.5,"e":0.0134},{"a":356,"e":0.0118},
{"a":356.5,"e":0.009},{"a":357,"e":0.0058},{"a":357.5,"e":0.0032},{"a":358,"e":0.0017},{"a":358.5,"e":0.0013},{"a":359,"e":0.0013},
{"a":359.5,"e":0.0018},{"a":360,"e":0.0024},{"a":360.5,"e":0.0027},{"a":361,"e":0.0028},{"a":362,"e":0.0028},{"a":363,"e":0.0026},
{"a":363.5,"e":0.0018},{"a":364,"e":0.0012},{"a":364.5,"e":0.0011},{"a":365,"e":0.0014},{"a":365.5,"e":0.0025},{"a":366,"e":0.0035},
{"a":366.5,"e":0.0043},{"a":367,"e":0.0047},{"a":367.5,"e":0.0047},{"a":368,"e":0.0044},{"a":368.5,"e":0.0036},{"a":369,"e":0.0028},
{"a":370,"e":0.0022},{"a":371,"e":0.0021},{"a":372,"e":0.0021},{"a":373,"e":0.002},{"a":374,"e":0.0019},{"a":375,"e":0.0018},
{"a":376,"e":0.0017},{"a":377,"e":0.0017},{"a":378,"e":0.0019},{"a":379,"e":0.0023},{"a":380,"e":0.0026},{"a":381,"e":0.0026},
{"a":382,"e":0.0024},{"a":383,"e":0.002},{"a":384,"e":0.0014},{"a":385,"e":0.0013},{"a":386,"e":0.0018},{"a":387,"e":0.0037},
{"a":388,"e":0.0062},{"a":388.5,"e":0.0074},{"a":389,"e":0.008},{"a":389.5,"e":0.0079},{"a":390,"e":0.0072},{"a":390.5,"e":0.006},
{"a":391,"e":0.0044},{"a":391.5,"e":0.003},{"a":392,"e":0.002},{"a":393,"e":0.0012},{"a":394,"e":0.0009},{"a":396,"e":0.0008},
{"a":398,"e":0.0009},{"a":400,"e":0.0008},{"a":402,"e":0.0009},{"a":404,"e":0.0008},{"a":406,"e":0.0009},{"a":408,"e":0.0008},
{"a":410,"e":0.0009},{"a":412,"e":0.0008},{"a":414,"e":0.0008},{"a":416,"e":0.0009},{"a":417,"e":0.001},{"a":418,"e":0.0013},
{"a":419,"e":0.0017},{"a":420,"e":0.0019}
]
},
"resolve": {"axis": {"x": "independent", "y": "independent"}},
"layer": [
{
 "data": {"name": "blue"},
 "mark": {"type": "line", "clip": true, "strokeWidth": 1},
 "encoding": {
  "x": {"field": "a", "type": "quantitative", "scale": {"domain": [340, 420], "nice": false, "zero": false},
        "axis": {"orient": "bottom", "values": [340,350,360,370,380,390,400,410,420], "format": "d", "tickSize": -7, "tickWidth": 2.5, "domainWidth": 2.5, "labelPadding": 16, "labelFlush": false, "title": "Crank angle (degree)", "titlePadding": 4, "grid": true, "gridColor": "#a6a6a6"}},
  "y": {"field": "v", "type": "quantitative", "scale": {"domain": [-0.15, 0.15], "nice": false, "zero": false},
        "axis": {"orient": "left", "values": [-0.1,-0.05,0,0.05,0.1,0.15], "labelExpr": "'' + datum.value", "tickSize": -7, "tickWidth": 2.5, "domainWidth": 2.5, "labelPadding": 10, "labelFlush": false, "title": null, "grid": true, "gridColor": "#7a7a7a"}},
  "color": {"datum": "Original AE signal", "type": "nominal",
            "scale": {"domain": ["Original AE signal", "Filtered AE signal", "Low-pass filtered envelope"], "range": ["#0000ff", "#ff0000", "#00f0f0"]},
            "legend": {"title": null, "orient": "none", "legendX": 360, "legendY": 13, "labelFont": "Liberation Sans", "labelFontSize": 24, "labelColor": "black", "symbolType": "M-0.4,0H6.1", "symbolSize": 400, "symbolStrokeWidth": 1.2, "labelOffset": 59, "padding": 8, "rowPadding": 9, "labelLimit": 400,
                       "encode": {"legend": {"update": {"stroke": {"value": "black"}, "strokeWidth": {"value": 3}, "fill": {"value": "white"}}},
                                  "symbols": {"update": {"strokeWidth": {"signal": "datum.value === 'Low-pass filtered envelope' ? 3.5 : 1.2"}}}}}}
 }
},
{
 "data": {"name": "red"},
 "mark": {"type": "line", "clip": true, "strokeWidth": 1.2},
 "encoding": {
  "x": {"field": "a", "type": "quantitative", "axis": null},
  "y": {"field": "f", "type": "quantitative", "axis": null},
  "color": {"datum": "Filtered AE signal", "type": "nominal"}
 }
},
{
 "data": {"name": "env"},
 "mark": {"type": "line", "clip": true, "strokeWidth": 3},
 "encoding": {
  "x": {"field": "a", "type": "quantitative",
        "axis": {"orient": "top", "values": [340,350,360,370,380,390,400,410,420], "labels": false, "domain": false, "grid": false, "tickSize": -4, "tickWidth": 1.5, "title": null}},
  "y": {"field": "e", "type": "quantitative",
        "axis": {"orient": "right", "values": [-0.1,-0.05,0,0.05,0.1,0.15], "labels": false, "domain": false, "grid": false, "tickSize": -4, "tickWidth": 1.5, "title": null}},
  "color": {"datum": "Low-pass filtered envelope", "type": "nominal"}
 }
}
]
}
